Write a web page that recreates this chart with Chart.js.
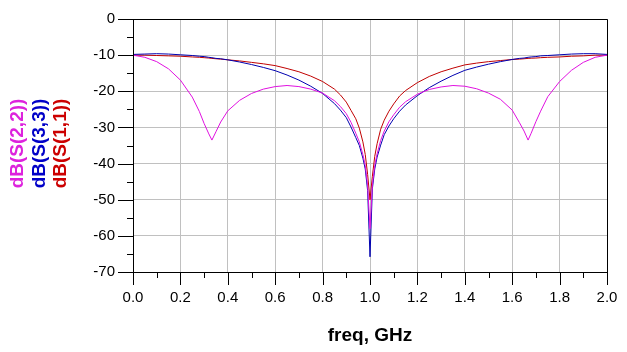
<!DOCTYPE html>
<html>
<head>
<meta charset="utf-8">
<script src="https://cdn.jsdelivr.net/npm/chart.js@4.4.0/dist/chart.umd.min.js"></script>
<style>
html,body{margin:0;padding:0;background:#fff;}
#wrap{width:627px;height:352px;position:relative;}
</style>
</head>
<body>
<div id="wrap"><canvas id="c" width="627" height="352"></canvas></div>
<script>
// Frequency points (GHz)
const freq = [0, 0.05, 0.1, 0.15, 0.2, 0.25, 0.28, 0.3, 0.32, 0.333, 0.35, 0.37, 0.4, 0.45, 0.5, 0.55, 0.6, 0.65, 0.7, 0.75, 0.8, 0.85, 0.875, 0.9, 0.92, 0.94, 0.955, 0.97, 0.98, 0.99, 1.0,
  1.01, 1.02, 1.03, 1.045, 1.06, 1.08, 1.1, 1.125, 1.15, 1.2, 1.25, 1.3, 1.35, 1.4, 1.45, 1.5, 1.55, 1.6, 1.63, 1.65, 1.667, 1.68, 1.7, 1.72, 1.75, 1.8, 1.85, 1.9, 1.95, 2.0];

// dB(S(1,1)) - red
const s11 = [-10.0, -10.0, -10.1, -10.2, -10.3, -10.5, -10.6, -10.7, -10.8, -10.9, -11.0, -11.1, -11.3, -11.6, -12.0, -12.4, -12.9, -13.7, -14.6, -15.8, -17.3, -19.4, -21.0, -23.0, -25.3, -27.6, -30.2, -34.0, -37.5, -43.0, -50.0,
  -43.5, -38.0, -34.5, -30.5, -28.0, -25.5, -23.5, -21.3, -19.8, -17.6, -15.9, -14.6, -13.6, -12.7, -12.2, -11.8, -11.5, -11.2, -11.1, -11.0, -10.9, -10.85, -10.8, -10.7, -10.6, -10.5, -10.3, -10.2, -10.0, -10.0];

// dB(S(3,3)) - blue
const s33 = [-9.8, -9.7, -9.6, -9.7, -9.9, -10.1, -10.3, -10.4, -10.6, -10.7, -10.9, -11.0, -11.3, -11.9, -12.6, -13.4, -14.3, -15.5, -16.9, -18.6, -20.6, -23.4, -25.2, -27.3, -29.9, -32.8, -35.0, -38.5, -41.5, -47.5, -65.8,
  -47.0, -41.5, -38.2, -34.9, -32.0, -29.6, -27.6, -25.5, -23.8, -21.2, -19.0, -17.2, -15.6, -14.2, -13.3, -12.5, -11.8, -11.2, -10.9, -10.8, -10.6, -10.5, -10.4, -10.2, -10.1, -9.9, -9.7, -9.6, -9.6, -9.8];

// dB(S(2,2)) - magenta
const s22 = [-10.0, -10.6, -11.8, -13.8, -16.9, -21.6, -25.6, -28.9, -31.8, -33.5, -31.2, -28.5, -25.4, -22.5, -20.6, -19.4, -18.7, -18.4, -18.7, -19.4, -20.5, -22.6, -24.2, -26.2, -28.6, -31.6, -34.0, -37.5, -40.5, -46.0, -58.0,
  -46.0, -40.5, -37.3, -33.6, -31.0, -28.4, -26.5, -24.4, -22.9, -20.8, -19.5, -18.8, -18.4, -18.6, -19.3, -20.5, -22.2, -25.2, -28.6, -31.0, -33.5, -31.6, -28.4, -25.5, -21.5, -17.3, -14.2, -12.0, -10.6, -10.0];

const seriesNames = ['dB(S(2,2))', 'dB(S(3,3))', 'dB(S(1,1))'];
const xAxisTitle = 'freq, GHz';
const xMin = 0, xMax = 2.0, xStep = 0.2, xMinorStep = 0.1;
const yMin = -70, yMax = 0, yStep = 10, yMinorStep = 5;

const colMag = '#e010e0', colBlue = '#0000b0', colRed = '#c00000';
const txtMag = '#dd22dd', txtBlue = '#0000c8', txtRed = '#cc0000';

function pts(vals){ return freq.map((f,i)=>({x:f, y:vals[i]})); }

const decorPlugin = {
  id: 'decor',
  afterDraw(chart){
    const ctx = chart.ctx, a = chart.chartArea;
    const xs = chart.scales.x, ys = chart.scales.y;
    ctx.save();
    ctx.strokeStyle = '#000';
    ctx.lineWidth = 1;
    // frame
    ctx.beginPath();
    ctx.moveTo(a.left+0.5, a.top+0.5); ctx.lineTo(a.right+0.5, a.top+0.5);
    ctx.lineTo(a.right+0.5, a.bottom+0.5); ctx.lineTo(a.left+0.5, a.bottom+0.5);
    ctx.closePath();
    ctx.stroke();
    // y ticks
    ctx.beginPath();
    for (let v = yMin; v <= yMax + 1e-9; v += yMinorStep) {
      const py = Math.round(ys.getPixelForValue(v)) + 0.5;
      const major = Math.abs(v % yStep) < 1e-9;
      const len = major ? 15 : 6;
      ctx.moveTo(a.left - len, py); ctx.lineTo(a.left, py);
    }
    // x ticks
    for (let i = 0; i <= Math.round((xMax - xMin)/xMinorStep); i++) {
      const v = xMin + i*xMinorStep;
      const px = Math.round(xs.getPixelForValue(v)) + 0.5;
      const major = i % 2 === 0;
      const len = major ? 13 : 6;
      ctx.moveTo(px, a.bottom); ctx.lineTo(px, a.bottom + len);
    }
    ctx.stroke();
    // axis title
    ctx.fillStyle = '#000';
    ctx.font = 'bold 19px "Liberation Sans", Arial, sans-serif';
    ctx.textAlign = 'center';
    ctx.textBaseline = 'alphabetic';
    ctx.fillText(xAxisTitle, (a.left + a.right)/2, 341);
    // rotated legend
    const cols = [txtMag, txtBlue, txtRed];
    const cx = [17.5, 39.5, 61];
    ctx.font = 'bold 19px "Liberation Sans", Arial, sans-serif';
    for (let i = 0; i < seriesNames.length; i++) {
      ctx.save();
      ctx.translate(cx[i], 143.5);
      ctx.rotate(-Math.PI/2);
      ctx.fillStyle = cols[i];
      ctx.textAlign = 'center';
      ctx.textBaseline = 'middle';
      ctx.fillText(seriesNames[i], 0, 0);
      ctx.restore();
    }
    ctx.restore();
  }
};

new Chart(document.getElementById('c'), {
  type: 'line',
  data: {
    datasets: [
      {label: seriesNames[0], data: pts(s22), borderColor: colMag, borderWidth: 1, pointRadius: 0, tension: 0, fill: false},
      {label: seriesNames[1], data: pts(s33), borderColor: colBlue, borderWidth: 1, pointRadius: 0, tension: 0, fill: false},
      {label: seriesNames[2], data: pts(s11), borderColor: colRed, borderWidth: 1, pointRadius: 0, tension: 0, fill: false}
    ]
  },
  options: {
    responsive: false,
    animation: false,
    events: [],
    layout: {padding: {left: 0, top: 19, right: 20, bottom: 0}},
    plugins: {legend: {display: false}, tooltip: {enabled: false}, title: {display: false}},
    scales: {
      x: {
        type: 'linear', min: xMin, max: xMax,
        grid: {color: '#c0c0c0', lineWidth: 1, drawTicks: false},
        border: {display: true, color: '#000'},
        ticks: {stepSize: xStep, padding: 17, color: '#000', font: {family: '"Liberation Sans", Arial, sans-serif', size: 15},
          callback: v => Number(v).toFixed(1), maxRotation: 0, autoSkip: false},
        afterFit: s => { s.height = 80; s.paddingLeft = 0; s.paddingRight = 0; }
      },
      y: {
        type: 'linear', min: yMin, max: yMax,
        grid: {color: '#c0c0c0', lineWidth: 1, drawTicks: false},
        border: {display: true, color: '#000'},
        ticks: {stepSize: yStep, padding: 18, color: '#000', font: {family: '"Liberation Sans", Arial, sans-serif', size: 15},
          callback: v => String(Math.round(v)), autoSkip: false},
        afterFit: s => { s.width = 133; s.paddingTop = 0; s.paddingBottom = 0; }
      }
    }
  },
  plugins: [decorPlugin]
});
</script>
</body>
</html>
